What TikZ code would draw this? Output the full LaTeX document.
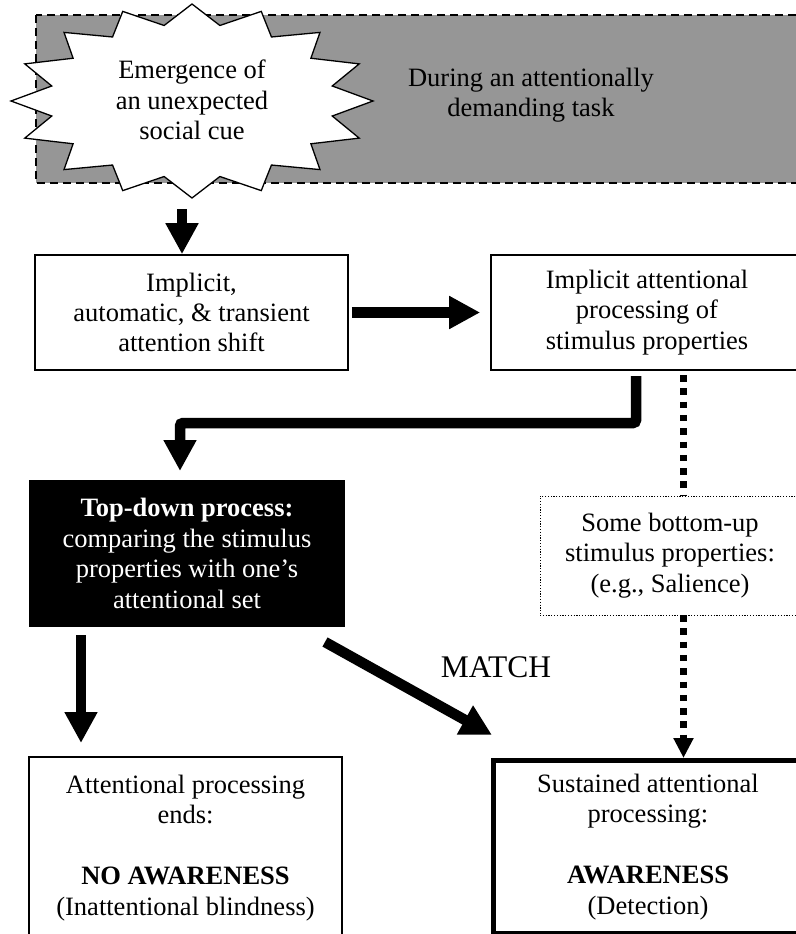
\documentclass[tikz,border=0pt]{standalone}
\usepackage{fontspec}
\setmainfont{Liberation Serif}
\usetikzlibrary{arrows.meta,calc}
\definecolor{taskgray}{RGB}{150,150,150}
\begin{document}
\begin{tikzpicture}[x=1bp,y=-1bp,
  every node/.style={font=\fontsize{26.6}{30.5}\selectfont, align=center, inner sep=0pt},
  plainbox/.style={draw, line width=1.6bp, fill=white},
  blackbox/.style={draw, line width=1.6bp, fill=black, text=white},
  dotbox/.style={draw, line width=1bp, dash pattern=on 1.2bp off 1.6bp, fill=white},
  strongbox/.style={draw, line width=5bp, fill=white},
  bigarrow/.style={line width=10.5bp, -{Triangle[width=31bp,length=31bp]}},
  dotline/.style={line width=6.5bp, dash pattern=on 6.5bp off 6.8bp},
  dotarrow/.style={dotline, -{Triangle[width=19bp,length=20bp]}}
]
\useasboundingbox (0,0) rectangle (796,934);
\clip (0,0) rectangle (796,934);
\fill[white] (0,0) rectangle (796,934);

% task background
\draw[fill=taskgray, line width=1.3bp, dash pattern=on 8bp off 5bp] (36,15) rectangle (820,183);
\node (task) at (531,95) {During an attentionally\\demanding task};

% starburst
\draw[fill=white, line width=1.3bp, line join=miter] (192,4)
  \foreach \k in {0,...,15}{
    -- ({192+143*sin(\k*22.5+11.25)},{101-77*cos(\k*22.5+11.25)})
    -- ({192+181*sin(\k*22.5+22.5)},{101-97*cos(\k*22.5+22.5)})
  } -- cycle;
\node (cue) at (192,100) {Emergence of\\an unexpected\\social cue};

% boxes
\node[plainbox, minimum width=313bp, minimum height=115bp] (shift) at (191.5,312.5)
  {Implicit,\\automatic, \& transient\\attention shift};
\node[plainbox, minimum width=312bp, minimum height=115bp] (implicit) at (647,312.5)
  {Implicit attentional\\processing of\\stimulus properties};
\node[blackbox, minimum width=314bp, minimum height=145bp] (topdown) at (187,553.5)
  {\textbf{Top-down process:}\\comparing the stimulus\\properties with one’s\\attentional set};
\node[dotbox, minimum width=260bp, minimum height=119bp] (bottomup) at (670,555.5)
  {Some bottom-up\\stimulus properties:\\(e.g., Salience)};
\node[plainbox, minimum width=313bp, minimum height=182bp] (noaware) at (185.5,848)
  {Attentional processing\\ends:\\\mbox{}\\\textbf{NO AWARENESS}\\(Inattentional blindness)};
\node[strongbox, minimum width=309bp, minimum height=173bp] (aware) at (648,847)
  {Sustained attentional\\processing:\\\mbox{}\\\textbf{AWARENESS}\\(Detection)};

% connectors
\coordinate (s1) at (182,209);
\draw[bigarrow] (s1) -- (s1 |- shift.north);

\draw[bigarrow] ([xshift=3bp]shift.east) -- ([xshift=-10bp]implicit.west);

\coordinate (e1) at (636,376);
\coordinate (e2) at (180,471);
\draw[bigarrow, rounded corners=3bp] (e1) |- (e2 |- 0,423) -- (e2);

\coordinate (d1) at (81,635);
\draw[bigarrow] (d1) -- (81,743);

\coordinate (m1) at (325,642);
\coordinate (m2) at (492,735);
\draw[bigarrow] (m1) -- (m2);
\node[font=\fontsize{31.6}{34}\selectfont] (match) at (496,667) {MATCH};

\coordinate (p1) at (683.5,375);
\draw[dotline] (p1) -- (p1 |- bottomup.north);
\coordinate (p2) at (683.5,615);
\draw[dotarrow] (p2) -- (p2 |- aware.north);
\end{tikzpicture}
\end{document}
